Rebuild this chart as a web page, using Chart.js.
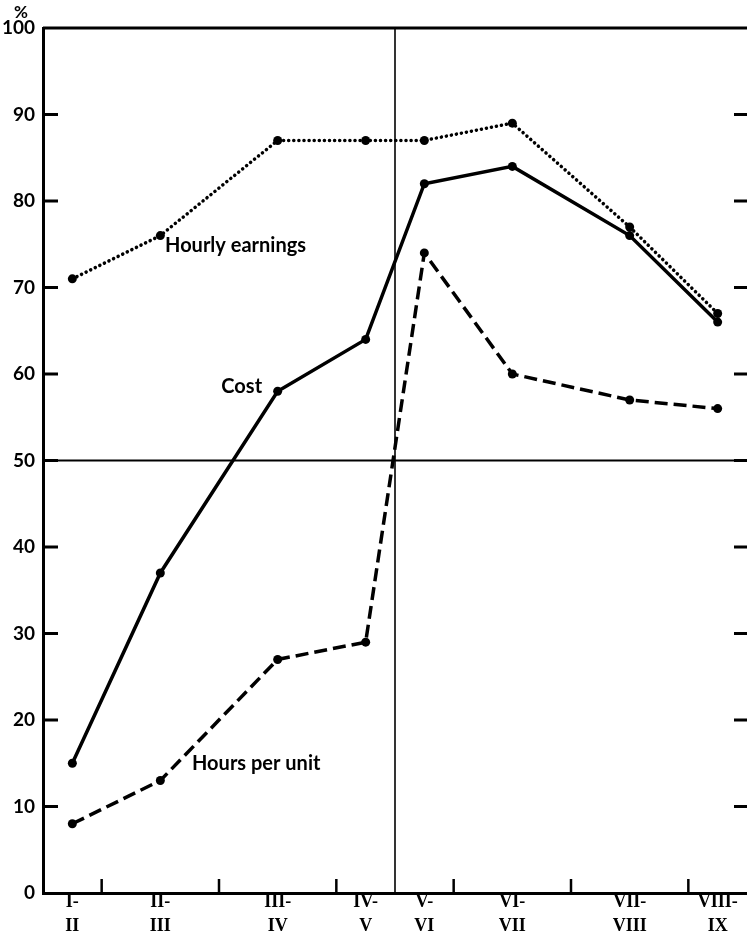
<!DOCTYPE html>
<html>
<head>
<meta charset="utf-8">
<script src="https://cdn.jsdelivr.net/npm/chart.js@4.4.0/dist/chart.umd.min.js"></script>
<style>
    html, body { margin: 0; padding: 0; background: #fff; }
    #wrap { position: relative; width: 747px; height: 938px; }
</style>
</head>
<body>
<div id="wrap"><canvas id="chart" width="747" height="938"></canvas></div>
<script>
// periods (two-line labels) and where they sit on the time axis
const periods = [['I-', 'II'], ['II-', 'III'], ['III-', 'IV'], ['IV-', 'V'],
                 ['V-', 'VI'], ['VI-', 'VII'], ['VII-', 'VIII'], ['VIII-', 'IX']];
const periodPos = [0.25, 1, 2, 2.75, 3.25, 4, 5, 5.75];

// percentages
const hourlyEarnings = [71, 76, 87, 87, 87, 89, 77, 67];
const cost = [15, 37, 58, 64, 82, 84, 76, 66];
const hoursPerUnit = [8, 13, 27, 29, 74, 60, 57, 56];

const yTicks = [0, 10, 20, 30, 40, 50, 60, 70, 80, 90, 100];
const xTickMarks = [0.5, 1.5, 2.5, 3.5, 4.5, 5.5];

const toPoints = (vals) => vals.map((v, i) => ({ x: periodPos[i], y: v }));

// axis frame, inner tick marks, reference lines and line captions
const framePlugin = {
    id: 'frame',
    beforeDatasetsDraw(chart) {
        const { ctx, chartArea: a, scales: { x, y } } = chart;
        ctx.save();
        ctx.strokeStyle = '#000';
        ctx.lineCap = 'butt';

        // top edge
        ctx.lineWidth = 3;
        ctx.beginPath();
        ctx.moveTo(a.left, a.top);
        ctx.lineTo(a.right, a.top);
        ctx.stroke();

        // y tick marks, left side and right side
        ctx.lineWidth = 3;
        yTicks.slice(1, -1).forEach(v => {
            const py = y.getPixelForValue(v);
            ctx.beginPath();
            ctx.moveTo(a.left, py);
            ctx.lineTo(a.left + 15, py);
            ctx.moveTo(a.right - 13, py);
            ctx.lineTo(a.right, py);
            ctx.stroke();
        });

        // x tick marks along the bottom
        ctx.lineWidth = 2.5;
        xTickMarks.forEach(v => {
            const px = x.getPixelForValue(v);
            ctx.beginPath();
            ctx.moveTo(px, a.bottom);
            ctx.lineTo(px, a.bottom - 14);
            ctx.stroke();
        });

        // 50% line and the split between periods IV-V and V-VI
        ctx.lineWidth = 2;
        const y50 = y.getPixelForValue(50);
        ctx.beginPath();
        ctx.moveTo(a.left, y50);
        ctx.lineTo(a.right, y50);
        ctx.stroke();

        ctx.lineWidth = 1.6;
        const xMid = x.getPixelForValue(3);
        ctx.beginPath();
        ctx.moveTo(xMid, a.top);
        ctx.lineTo(xMid, a.bottom);
        ctx.stroke();
        ctx.restore();
    },
    afterDatasetsDraw(chart) {
        const { ctx, scales: { x, y } } = chart;
        ctx.save();
        ctx.fillStyle = '#000';
        ctx.font = 'bold 20px Lato';
        ctx.textBaseline = 'middle';
        ctx.textAlign = 'left';
        ctx.fillText('Hourly earnings', x.getPixelForValue(1.04), y.getPixelForValue(74.9));
        ctx.fillText('Cost', x.getPixelForValue(1.52), y.getPixelForValue(58.6));
        ctx.fillText('Hours per unit', x.getPixelForValue(1.27), y.getPixelForValue(15));

        // percent sign above the axis
        ctx.font = 'bold 17px Lato';
        ctx.textAlign = 'center';
        ctx.fillText('%', 21, 13);
        ctx.restore();
    }
};

new Chart(document.getElementById('chart'), {
    type: 'line',
    data: {
        datasets: [
            {
                label: 'Hourly earnings',
                data: toPoints(hourlyEarnings),
                borderColor: '#000',
                borderWidth: 3.5,
                borderDash: [0.1, 5],
                borderCapStyle: 'round',
                pointRadius: 4.5,
                pointBackgroundColor: '#000',
                pointBorderWidth: 0
            },
            {
                label: 'Cost',
                data: toPoints(cost),
                borderColor: '#000',
                borderWidth: 3.5,
                pointRadius: 4.5,
                pointBackgroundColor: '#000',
                pointBorderWidth: 0
            },
            {
                label: 'Hours per unit',
                data: toPoints(hoursPerUnit),
                borderColor: '#000',
                borderWidth: 3.5,
                borderDash: [13, 6],
                pointRadius: 4.5,
                pointBackgroundColor: '#000',
                pointBorderWidth: 0
            }
        ]
    },
    options: {
        responsive: false,
        animation: false,
        events: [],
        layout: { autoPadding: false, padding: { top: 28, right: 0, left: 0, bottom: 0 } },
        plugins: {
            legend: { display: false },
            tooltip: { enabled: false }
        },
        scales: {
            x: {
                type: 'linear',
                min: 0,
                max: 6,
                grid: { display: false, drawTicks: false },
                border: { display: true, color: '#000', width: 3 },
                afterBuildTicks: (scale) => {
                    scale.ticks = periodPos.map(v => ({ value: v }));
                },
                afterFit: (scale) => {
                    scale.height = 45;
                    scale.paddingLeft = 0;
                    scale.paddingRight = 0;
                },
                ticks: {
                    autoSkip: false,
                    maxRotation: 0,
                    padding: -3,
                    color: '#000',
                    font: { family: '"Liberation Serif"', size: 18, weight: 'bold', lineHeight: 1.35 },
                    callback: (value) => {
                        const i = periodPos.indexOf(value);
                        return i >= 0 ? periods[i] : '';
                    }
                }
            },
            y: {
                min: 0,
                max: 100,
                grid: { display: false, drawTicks: false },
                border: { display: true, color: '#000', width: 3 },
                afterBuildTicks: (scale) => {
                    scale.ticks = yTicks.map(v => ({ value: v }));
                },
                afterFit: (scale) => { scale.width = 43; },
                ticks: {
                    padding: 8,
                    color: '#000',
                    font: { family: 'Lato', size: 19, weight: 'bold' }
                }
            }
        }
    },
    plugins: [framePlugin]
});
</script>
</body>
</html>
